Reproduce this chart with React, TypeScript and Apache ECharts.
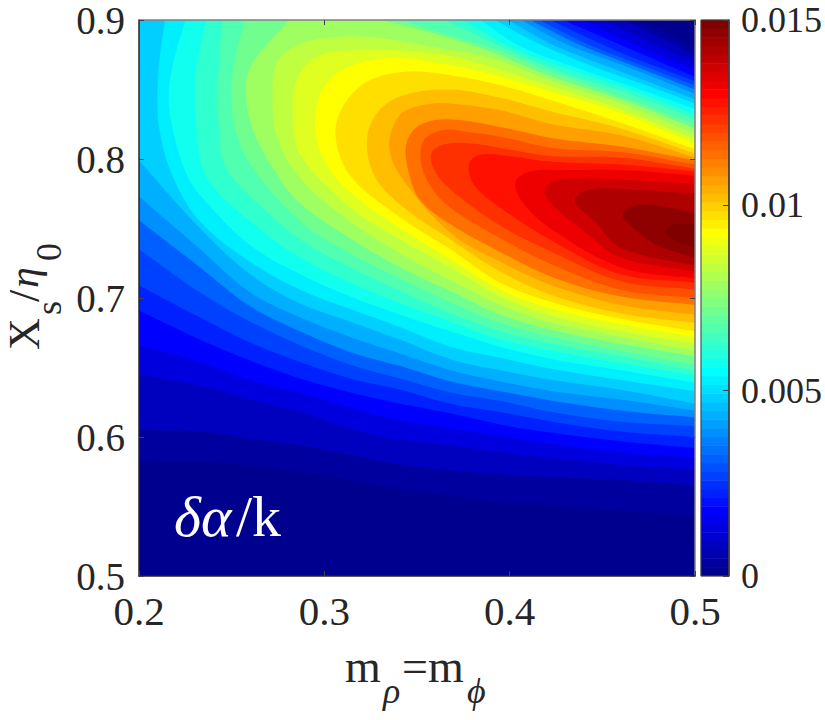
import React, { useEffect, useRef } from "react";
import * as echarts from "echarts";

// Filled contours of delta-alpha/k.
// Levels are in units of 1e-4; points are [m * 1000, X_s/eta_0 * 1000].
const lowerM = [500, 460, 423, 395, 368, 341, 314, 287, 260, 233, 200];
const along = (ys: number[]) => ys.map((y, i) => [lowerM[i], y]);

const lower02 = [544, 547, 551, 553, 558, 562, 569, 575, 580, 582, 583];
const arm02 = [[470, 900], [485, 891], [500, 880]];
const lower05 = [565, 569, 571, 573, 576, 580, 587, 594, 599, 604, 605];
const arm05 = [[462, 900], [481, 888], [500, 875]];
const lower10 = [576, 580, 585, 589, 594, 598, 606, 618, 627, 637, 645];
const arm10 = [[450, 900], [476, 884], [500, 869]];
const lower15 = [585, 589, 595, 601, 606, 612, 621, 632, 641, 654, 666];
const arm15 = [[439, 900], [470, 881], [500, 864]];
const lower20 = [592, 597, 603, 609, 617, 624, 632, 642, 655, 670, 691];
const arm20 = [[429, 900], [460, 882], [500, 859]];
const lower25 = [600, 604, 611, 618, 624, 634, 642, 654, 668, 686, 709];
const arm25 = [[422, 900], [449, 883], [476, 868], [500, 856]];
const lower30 = [608, 611, 618, 626, 632, 642, 652, 666, 683, 704, 735];
const arm30 = [[416, 900], [443, 882], [470, 868], [500, 853]];
const lower35 = [614, 619, 626, 633, 640, 651, 661, 676, 694, 722, 756];
const arm35 = [[411, 900], [438, 882], [465, 868], [500, 850]];
const lower40 = [619, 627, 633, 640, 648, 660, 672, 686, 704, 735, 773];
const arm40 = [[406, 900], [430, 883], [460, 868], [500, 847]];
const lower45 = [624, 634, 641, 648, 656, 670, 683, 696, 717, 750, 799];
const arm45 = [[399, 900], [422, 883], [454, 866], [500, 843]];

const curve50 = [...along([633, 641, 649, 657, 665, 679, 692, 706, 726, 755]), [218, 788], [211, 821], [210, 842], [211, 871], [214, 900]];
const arm50 = [[392, 900], [414, 884], [446, 866], [476, 852], [500, 840]];
const curve55 = [...along([639, 648, 656, 665, 676, 688, 701, 717, 738, 774]), [225, 791], [219, 817], [216, 842], [218, 866], [225, 900]];
const arm55 = [[384, 900], [406, 881], [442, 863], [477, 847], [500, 836]];
const curve60 = [...along([644, 653, 662, 670, 683, 696, 711, 729, 755]), [236, 788], [231, 821], [230, 842], [231, 866], [236, 900]];
const arm60 = [[375, 900], [400, 881], [433, 864], [465, 850], [500, 832]];
const curve65 = [...along([648, 658, 667, 676, 689, 705, 722, 742, 773]), [246, 796], [243, 824], [242, 842], [243, 866], [245, 900]];
const arm65 = [[365, 900], [395, 881], [427, 863], [462, 848], [500, 829]];
const curve70 = [...along([652, 662, 672, 682, 697, 714, 732, 755]), [260, 796], [252, 821], [250, 842], [251, 866], [257, 900]];
const arm70 = [[341, 900], [365, 890], [392, 879], [424, 862], [460, 845], [500, 825]];
const curve75 = [...along([658, 667, 677, 688, 705, 722, 743, 768]), [274, 790], [262, 819], [258, 842], [260, 866], [281, 900]];
const arm75 = [[330, 900], [352, 893], [388, 878], [423, 859], [460, 843], [500, 822]];

const ring80 = [...along([662, 672, 682, 695, 713, 732, 755, 786]), [275, 814], [272, 842], [275, 871], [290, 884], [308, 888], [330, 887], [357, 881], [389, 873], [423, 856], [460, 840], [500, 818]];
const ring85 = [...along([667, 676, 687, 701, 722, 742, 765]), [287, 803], [283, 832], [285, 857], [295, 873], [314, 878], [341, 878], [368, 874], [393, 865], [423, 852], [460, 836], [500, 814]];
const ring90 = [...along([672, 681, 692, 706, 728, 750, 776]), [300, 799], [295, 824], [299, 850], [311, 865], [335, 873], [357, 870], [381, 864], [406, 855], [423, 848], [460, 833], [500, 811]];
const ring95 = [...along([676, 685, 697, 711, 735, 758, 788]), [306, 817], [311, 840], [325, 857], [346, 863], [369, 860], [395, 853], [423, 842], [460, 826], [500, 807]];
const ring100 = [...along([682, 689, 702, 719, 742, 767]), [327, 788], [323, 814], [329, 834], [343, 846], [368, 850], [395, 844], [423, 834], [460, 822], [500, 804]];
const ring105 = [...along([688, 695, 709, 726, 747, 788]), [335, 810], [341, 832], [354, 839], [368, 840], [395, 835], [423, 825], [460, 817], [500, 801]];
const ring110 = [...along([695, 701, 715, 733, 753]), [352, 770], [346, 788], [344, 809], [349, 822], [360, 828], [373, 828], [395, 823], [423, 815], [460, 809], [500, 799]];
const ring115 = [...along([700, 706, 724, 743, 765]), [357, 781], [352, 799], [354, 814], [365, 821], [379, 819], [395, 816], [423, 808], [460, 805], [500, 796]];
const ring120 = [...along([706, 712, 733, 752, 778]), [359, 793], [358, 805], [366, 811], [381, 811], [395, 808], [423, 802], [460, 801], [500, 793]];
const ring125 = [...along([711, 717, 741, 765]), [381, 781], [378, 796], [384, 803], [400, 802], [423, 798], [460, 796], [500, 791]];
const ring130 = [...along([714, 722, 749]), [408, 767], [403, 783], [411, 791], [433, 792], [460, 792], [500, 788]];
const ring135 = [...along([719, 729]), [441, 747], [423, 767], [419, 778], [427, 785], [460, 785], [500, 782]];
const ring140 = [...along([723, 736]), [446, 755], [435, 770], [443, 778], [465, 778], [500, 775]];
const ring145 = [...along([729]), [481, 737], [468, 749], [461, 760], [470, 767], [487, 765], [500, 761]];
const ring148 = [[500, 736], [492, 740], [484, 747], [489, 753], [500, 753]];

const topLeftOutside = [[170, 960]];
const wholePlot = [[[170, 460]], [[530, 460]], [[530, 960]], [[170, 960]]];

const open = (lower: number[], arm: number[][]) => [along(lower), topLeftOutside, arm];

const contours: { level: number; parts: number[][][] }[] = [
  { level: 0, parts: wholePlot },
  { level: 2.5, parts: open(lower02, arm02) },
  { level: 5, parts: open(lower05, arm05) },
  { level: 10, parts: open(lower10, arm10) },
  { level: 15, parts: open(lower15, arm15) },
  { level: 20, parts: open(lower20, arm20) },
  { level: 25, parts: open(lower25, arm25) },
  { level: 30, parts: open(lower30, arm30) },
  { level: 35, parts: open(lower35, arm35) },
  { level: 40, parts: open(lower40, arm40) },
  { level: 45, parts: open(lower45, arm45) },
  { level: 50, parts: [curve50, arm50] },
  { level: 55, parts: [curve55, arm55] },
  { level: 60, parts: [curve60, arm60] },
  { level: 65, parts: [curve65, arm65] },
  { level: 70, parts: [curve70, arm70] },
  { level: 75, parts: [curve75, arm75] },
  { level: 80, parts: [ring80] },
  { level: 85, parts: [ring85] },
  { level: 90, parts: [ring90] },
  { level: 95, parts: [ring95] },
  { level: 100, parts: [ring100] },
  { level: 105, parts: [ring105] },
  { level: 110, parts: [ring110] },
  { level: 115, parts: [ring115] },
  { level: 120, parts: [ring120] },
  { level: 125, parts: [ring125] },
  { level: 130, parts: [ring130] },
  { level: 135, parts: [ring135] },
  { level: 140, parts: [ring140] },
  { level: 145, parts: [ring145] },
  { level: 148, parts: [ring148] },
];

const barTickLabels = ["0", "0.005", "0.01", "0.015"];
const valueMax = 150;
const levelCount = 64;

const serif = "'Liberation Serif', 'Times New Roman', serif";
const ink = "#262626";

function jet(i: number) {
  const t = (i + 1) / levelCount;
  const c = (v: number) => Math.round(255 * Math.max(0, Math.min(1, v)));
  return `rgb(${c(Math.min(4 * t - 1.5, -4 * t + 4.5))},${c(Math.min(4 * t - 0.5, -4 * t + 3.5))},${c(Math.min(4 * t + 0.5, -4 * t + 2.5))})`;
}

const pieces = Array.from({ length: levelCount }, (_, i) => ({
  gte: (i * valueMax) / levelCount,
  lt: i === levelCount - 1 ? valueMax + 1 : ((i + 1) * valueMax) / levelCount,
  color: jet(i),
}));

const barCats = pieces.map((_, i) => String(i));
const barCells = pieces.map((p, i) => [0, i, p.gte + 0.01]);

function bandColor(index: number) {
  const low = contours[index].level;
  const high = index + 1 < contours.length ? contours[index + 1].level : valueMax;
  return jet(Math.min(levelCount - 1, Math.floor((((low + high) / 2) * levelCount) / valueMax)));
}

// A part's ends run on past the plot's edge, so that the clip cuts the curve there.
function outline(parts: number[][][]) {
  const out: number[][] = [];
  parts.forEach((part) => {
    if (part.length < 2) {
      out.push(part[0]);
      return;
    }
    const past = (a: number[], b: number[]) => [b[0] + (b[0] - a[0]) * 0.6, b[1] + (b[1] - a[1]) * 0.6];
    out.push(past(part[1], part[0]), ...part, past(part[part.length - 2], part[part.length - 1]));
  });
  return out;
}

function txt(text: string, x: number, y: number, size: number, opts: any = {}) {
  return {
    type: "text",
    x,
    y,
    rotation: opts.rot ? Math.PI / 2 : 0,
    z: 20,
    style: {
      text,
      fill: opts.fill || ink,
      font: `${opts.italic ? "italic " : ""}${size}px ${serif}`,
      textAlign: "left",
      textVerticalAlign: "middle",
    },
  };
}

const frameAxis = (extra: any, color: string) => ({
  type: "value",
  gridIndex: 0,
  z: 10,
  axisLine: { show: true, onZero: false, lineStyle: { color, width: 1.5 } },
  axisTick: { show: true, inside: true, length: 5, lineStyle: { color: "#404040", width: 1 } },
  splitLine: { show: false },
  axisLabel: { show: false },
  ...extra,
});

export default function App() {
  const ref = useRef<HTMLDivElement>(null);
  useEffect(() => {
    const chart = echarts.init(ref.current!, null, { renderer: "svg" });
    const tickLabel = {
      show: true,
      color: ink,
      fontFamily: serif,
      fontSize: 41,
      margin: 14,
      formatter: (v: number) => v.toFixed(1),
    };
    chart.setOption({
      animation: false,
      backgroundColor: "#ffffff",
      grid: [
        { left: 139, top: 20, width: 556, height: 556 },
        { left: 701, top: 20, width: 28, height: 556 },
      ],
      xAxis: [
        frameAxis({ min: 0.2, max: 0.5, interval: 0.1, position: "bottom", axisLabel: tickLabel }, ink),
        frameAxis({ min: 0.2, max: 0.5, interval: 0.1, position: "top" }, "#808080"),
        { type: "category", data: ["0"], gridIndex: 1, position: "bottom", show: false },
      ],
      yAxis: [
        frameAxis({ min: 0.5, max: 0.9, interval: 0.1, position: "left", axisLabel: { ...tickLabel, fontSize: 39, padding: [4, 0, 0, 0] } }, ink),
        frameAxis({ min: 0.5, max: 0.9, interval: 0.1, position: "right" }, "#808080"),
        { type: "category", data: barCats, gridIndex: 1, position: "left", show: false },
        {
          type: "value",
          gridIndex: 1,
          z: 10,
          min: 0,
          max: 0.015,
          interval: 0.005,
          position: "right",
          axisLine: { show: true, onZero: false, lineStyle: { color: "#404040", width: 1.5 } },
          axisTick: { show: true, inside: true, length: 6, lineStyle: { color: "#404040", width: 1 } },
          splitLine: { show: false },
          axisLabel: {
            show: true,
            color: ink,
            fontFamily: serif,
            fontSize: 36,
            margin: 12,
            padding: [2, 0, 0, 0],
            formatter: (_: number, i: number) => barTickLabels[i],
          },
        },
      ],
      visualMap: {
        type: "piecewise",
        show: false,
        dimension: 2,
        seriesIndex: 1,
        pieces,
      },
      series: [
        {
          type: "custom",
          xAxisIndex: 0,
          yAxisIndex: 0,
          clip: true,
          silent: true,
          data: contours.map((c) => [0.35, 0.7, c.level]),
          renderItem: (params: any, api: any) => ({
            type: "polygon",
            shape: {
              points: outline(contours[params.dataIndex].parts).map((p) => api.coord([p[0] / 1000, p[1] / 1000])),
              smooth: 0.35,
            },
            style: { fill: bandColor(params.dataIndex) },
          }),
        },
        {
          type: "heatmap",
          xAxisIndex: 2,
          yAxisIndex: 2,
          data: barCells,
          itemStyle: { borderWidth: 0 },
          progressive: 0,
        },
      ],
      graphic: [
        { type: "rect", z: 19, shape: { x: 701, y: 20, width: 28, height: 556 }, style: { fill: "none", stroke: "#404040", lineWidth: 1 } },
        txt("δα", 174, 516, 58, { fill: "#ffffff", italic: true }),
        txt("/k", 236, 516, 58, { fill: "#ffffff" }),
        txt("m", 345, 666, 46),
        txt("ρ", 383, 691, 36, { italic: true }),
        txt("=", 402, 666, 46),
        txt("m", 428, 666, 46),
        txt("ϕ", 467, 691, 36, { italic: true }),
        txt("X", 24, 350, 44, { rot: true }),
        txt("s", 49, 315, 36, { rot: true }),
        txt("/", 24, 302, 44, { rot: true }),
        txt("η", 24, 288, 42, { rot: true, italic: true }),
        txt("0", 49, 261, 36, { rot: true }),
      ],
    });
    return () => chart.dispose();
  }, []);
  return <div ref={ref} style={{ position: "absolute", left: 0, top: 0, width: 825, height: 720 }} />;
}
